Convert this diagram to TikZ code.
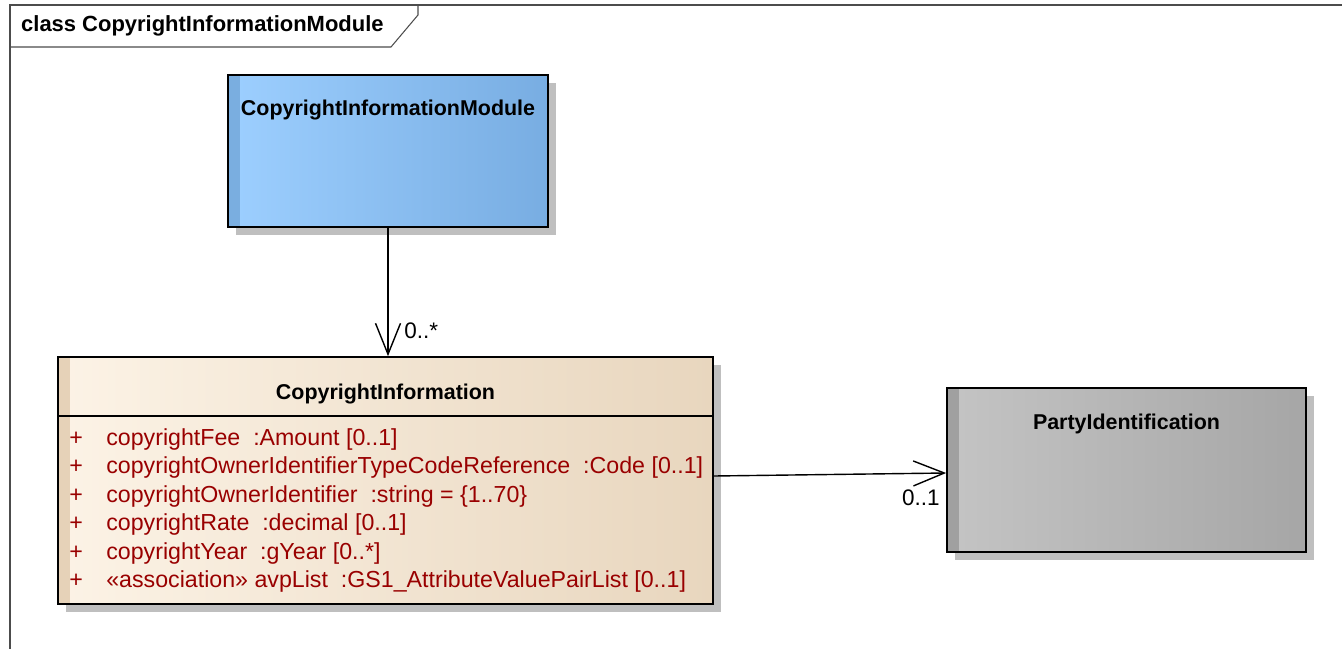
\documentclass[tikz,border=0pt]{standalone}
\usepackage{fontspec}
\setmainfont{Liberation Sans}
\usepackage{tikz}
\usetikzlibrary{positioning, arrows.meta, shadows}

\definecolor{modleft}{HTML}{9DCFFF}
\definecolor{modmid}{HTML}{95C7FA}
\definecolor{modright}{HTML}{78ADE2}
\definecolor{modstrip}{HTML}{7AAEE0}
\definecolor{clsleft}{HTML}{FCF3E6}
\definecolor{clsmid}{HTML}{F5E8D6}
\definecolor{clsright}{HTML}{E8D6BE}
\definecolor{clsstrip}{HTML}{E6D2B8}
\definecolor{extleft}{HTML}{C4C4C4}
\definecolor{extmid}{HTML}{BDBDBD}
\definecolor{extright}{HTML}{A6A6A6}
\definecolor{extstrip}{HTML}{A0A0A0}
\definecolor{attrred}{HTML}{990000}

\begin{document}
\begin{tikzpicture}[x=0.02cm, y=-0.02cm,
    umlbox/.style={rectangle, draw=black, line width=1pt, inner sep=0pt,
      drop shadow={shadow xshift=0.16cm, shadow yshift=-0.16cm, fill=black!25, opacity=1}},
    strip/.style={path picture={\fill[#1] (path picture bounding box.south west)
      rectangle ([xshift=0.24cm]path picture bounding box.north west);}},
    ctitle/.style={font=\fontsize{12.2}{14}\selectfont\bfseries},
    attr/.style={font=\fontsize{13.2}{16.2}\selectfont, text=attrred, align=left, inner sep=0pt},
    mult/.style={font=\fontsize{12.8}{14}\selectfont, inner sep=0pt},
    assoc/.style={-{Straight Barb[length=0.62cm, width=0.5cm]}, line width=0.8pt},
    frame/.style={draw=black!70, line width=0.6pt},
  ]
    \useasboundingbox (0,0) rectangle (1342,649);

    % diagram frame
    \draw[frame] (1342,5) -- (10,5) -- (10,649);
    \draw[frame] (10,47) -- (391,47) -- (418,15) -- (418,5);
    \node[ctitle, font=\fontsize{12.5}{14}\selectfont\bfseries, anchor=west] (frametitle) at (15,26)
      {class CopyrightInformationModule};

    % classes
    \node[umlbox, left color=modleft, middle color=modmid, right color=modright, strip=modstrip,
      minimum width=6.4cm, minimum height=3.04cm] (cim) at (388,151) {};
    \node[ctitle] (cimname) at ([yshift=-0.72cm]cim.north) {CopyrightInformationModule};

    \node[umlbox, left color=clsleft, middle color=clsmid, right color=clsright, strip=clsstrip,
      minimum width=13.1cm, minimum height=4.94cm] (ci) at (385.5,480.5) {};
    \node[ctitle] (ciname) at ([yshift=-0.76cm]ci.north) {CopyrightInformation};
    \draw[line width=1pt] ([yshift=-1.2cm]ci.north west) -- ([yshift=-1.2cm]ci.north east);
    \node[attr, anchor=north west] (ciattrs) at (69,428)
      {\makebox[0.74cm][l]{+}copyrightFee\ \ :Amount [0..1]\\
       \makebox[0.74cm][l]{+}copyrightOwnerIdentifierTypeCodeReference\ \ :Code [0..1]\\
       \makebox[0.74cm][l]{+}copyrightOwnerIdentifier\ \ :string = \{1..70\}\\
       \makebox[0.74cm][l]{+}copyrightRate\ \ :decimal [0..1]\\
       \makebox[0.74cm][l]{+}copyrightYear\ \ :gYear [0..*]\\
       \makebox[0.74cm][l]{+}«association» avpList\ \ :GS1\_AttributeValuePairList [0..1]};

    \node[umlbox, left color=extleft, middle color=extmid, right color=extright, strip=extstrip,
      minimum width=7.18cm, minimum height=3.28cm] (pid) at (1126.5,470) {};
    \node[ctitle] (pidname) at ([yshift=-0.74cm]pid.north) {PartyIdentification};

    % associations
    \draw[assoc] (cim.south) -- (cim.south |- ci.north);
    \node[mult, anchor=west] (multci) at (404,331) {0..*};
    \draw[assoc] ([yshift=0.09cm]ci.east) -- ([yshift=-0.06cm]pid.west);
    \node[mult, anchor=east] (multpid) at (940,498) {0..1};
  \end{tikzpicture}
\end{document}
